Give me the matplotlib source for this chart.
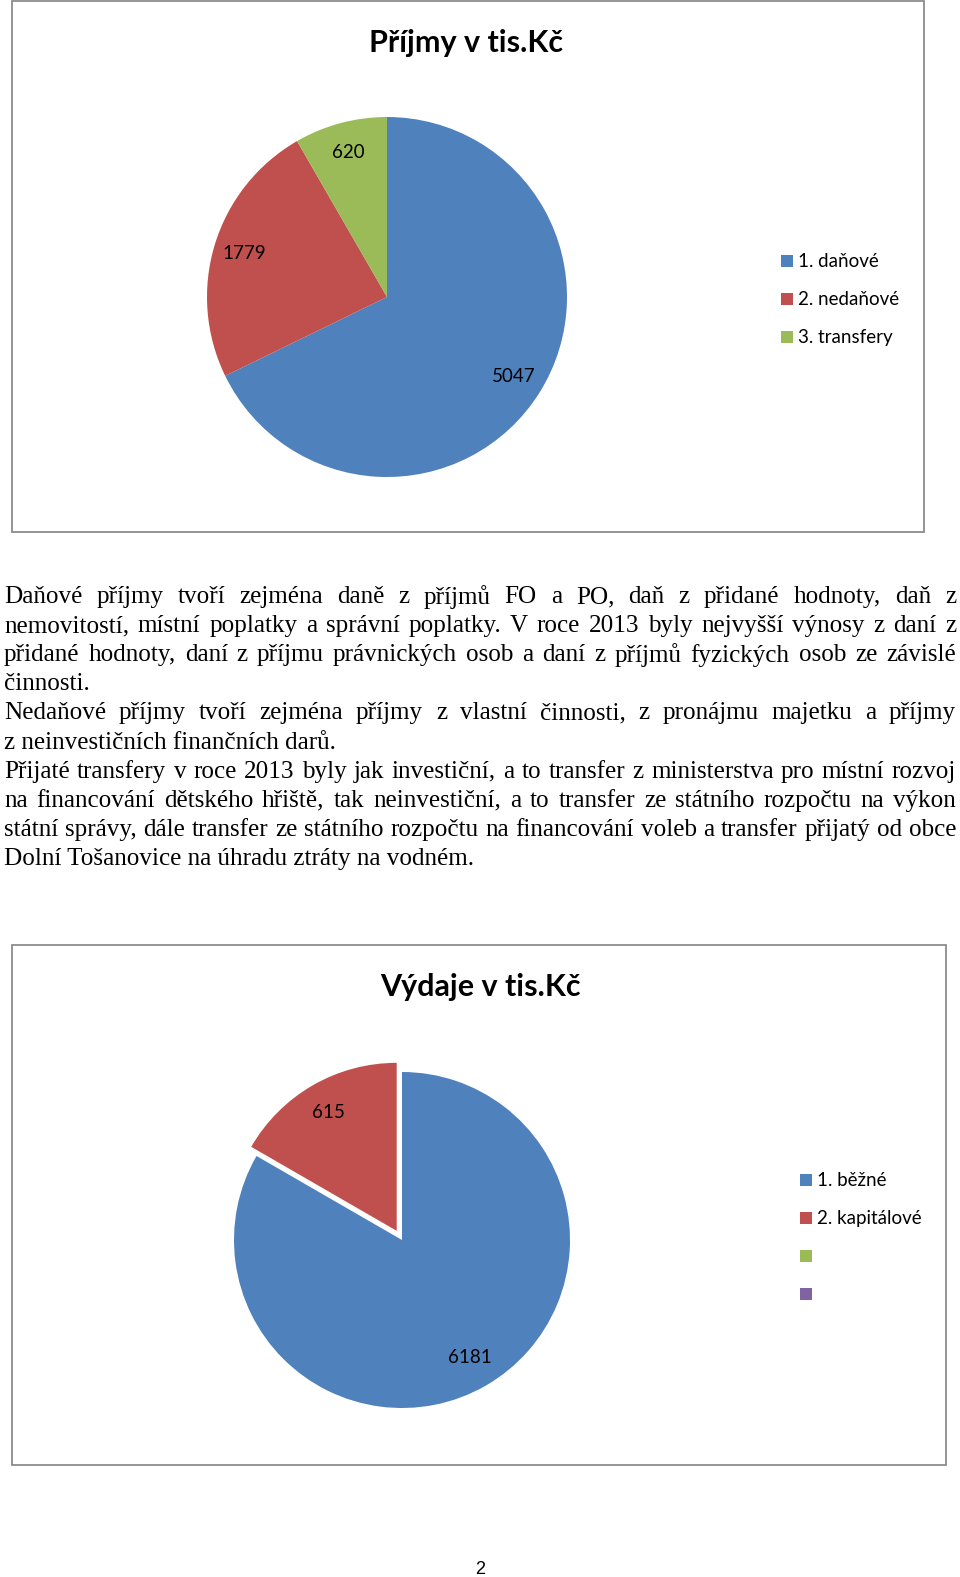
import matplotlib
matplotlib.use("Agg")
import matplotlib.pyplot as plt
from matplotlib.patches import Patch, Rectangle

# data
prijmy_labels = ["1. daňové", "2. nedaňové", "3. transfery"]
prijmy_values = [5047, 1779, 620]

vydaje_labels = ["1. běžné", "2. kapitálové", "", ""]
vydaje_values = [6181, 615]
# the red wedge in the original spans ~60 deg, wider than 615 would give
vydaje_wedges = [6181, 1236]

paragraphs = [
    [
        "Daňové příjmy tvoří zejména daně z příjmů FO a PO, daň z přidané hodnoty, daň z",
        "nemovitostí,  místní poplatky a správní poplatky. V roce 2013 byly nejvyšší výnosy z daní z",
        "přidané hodnoty, daní z příjmu právnických osob a daní z příjmů fyzických osob ze závislé",
        "činnosti.",
    ],
    [
        "Nedaňové příjmy tvoří zejména příjmy z vlastní činnosti, z pronájmu majetku a příjmy",
        "z neinvestičních finančních darů.",
    ],
    [
        "Přijaté transfery  v roce 2013 byly jak investiční, a to transfer z ministerstva pro místní rozvoj",
        "na financování dětského hřiště, tak neinvestiční, a to transfer ze státního rozpočtu na výkon",
        "státní správy, dále transfer ze státního rozpočtu na financování voleb a transfer přijatý od obce",
        "Dolní Tošanovice na úhradu ztráty na vodném.",
    ],
]

colors = ["#4F81BD", "#C0504D", "#9BBB59", "#8064A2"]
chart_font = ["Lato", "DejaVu Sans"]
body_font = ["Liberation Serif", "DejaVu Serif"]

W, H = 960, 1577
fig = plt.figure(figsize=(W / 100, H / 100), dpi=100)


def fx(x):
    return x / W


def fy(y):
    return 1 - y / H


def px_axes(cx, cy, half):
    return fig.add_axes([fx(cx - half), fy(cy + half), 2 * half / W, 2 * half / H])


def label_iter(values):
    it = iter(values)
    return lambda p: str(next(it))


# chart frames
for (x0, y0, x1, y1) in [(12, 1, 924, 532), (12, 945, 946, 1465)]:
    fig.patches.append(Rectangle((fx(x0), fy(y1)), (x1 - x0) / W, (y1 - y0) / H,
                                 transform=fig.transFigure, fill=False,
                                 edgecolor="#8c8c8c", linewidth=1.3))

label_style = {"family": chart_font, "fontsize": 13.5, "color": "black"}
legend_style = dict(frameon=False, prop={"family": chart_font, "size": 13.5},
                    handlelength=0.6, handleheight=0.6, handletextpad=0.3,
                    labelspacing=1.12, borderpad=0)

# --- chart 1: Příjmy
ax1 = px_axes(387, 297, 200)
ax1.pie(prijmy_values, colors=colors[:3], startangle=90, counterclock=False,
        autopct=label_iter(prijmy_values), pctdistance=0.83, textprops=label_style)
ax1.set_xlim(-200 / 180, 200 / 180)
ax1.set_ylim(-200 / 180, 200 / 180)
ax1.axis("off")
fig.text(fx(466), fy(43), "Příjmy v tis.Kč", ha="center", va="center",
         family=chart_font, fontsize=22, fontweight="bold")
h1 = [Patch(facecolor=c) for c in colors[:3]]
fig.legend(h1, prijmy_labels, loc="upper left", bbox_to_anchor=(fx(772), fy(244)),
           **legend_style)

# --- chart 2: Výdaje
ax2 = px_axes(402, 1240, 200)
ax2.pie(vydaje_wedges, colors=colors[:2], startangle=90, counterclock=False,
        explode=[0, 0.063], autopct=label_iter(vydaje_values), pctdistance=0.81,
        textprops=label_style)
ax2.set_xlim(-200 / 168, 200 / 168)
ax2.set_ylim(-200 / 168, 200 / 168)
ax2.axis("off")
fig.text(fx(480), fy(987), "Výdaje v tis.Kč", ha="center", va="center",
         family=chart_font, fontsize=22, fontweight="bold")
h2 = [Patch(facecolor=c) for c in colors]
fig.legend(h2, vydaje_labels, loc="upper left", bbox_to_anchor=(fx(791), fy(1163)),
           **legend_style)

# --- body text, justified by hand
left, right = 4, 956
line_y = 597
pitch = 29.1
body_size = 18.1
renderer = fig.canvas.get_renderer()
for para in paragraphs:
    for i, line in enumerate(para):
        if i == len(para) - 1:
            fig.text(fx(left), fy(line_y), line, ha="left", va="center",
                     family=body_font, fontsize=body_size)
        else:
            words = line.split()
            texts = [fig.text(0, fy(line_y), w, ha="left", va="center",
                              family=body_font, fontsize=body_size) for w in words]
            widths = [t.get_window_extent(renderer).width for t in texts]
            gap = (right - left - sum(widths)) / (len(words) - 1)
            x = left
            for t, w in zip(texts, widths):
                t.set_x(fx(x))
                x += w + gap
        line_y += pitch

fig.text(fx(480), fy(1569), "2", ha="center", va="center",
         family=["Liberation Sans", "DejaVu Sans"], fontsize=13)

fig.savefig("out.png", dpi=100)
